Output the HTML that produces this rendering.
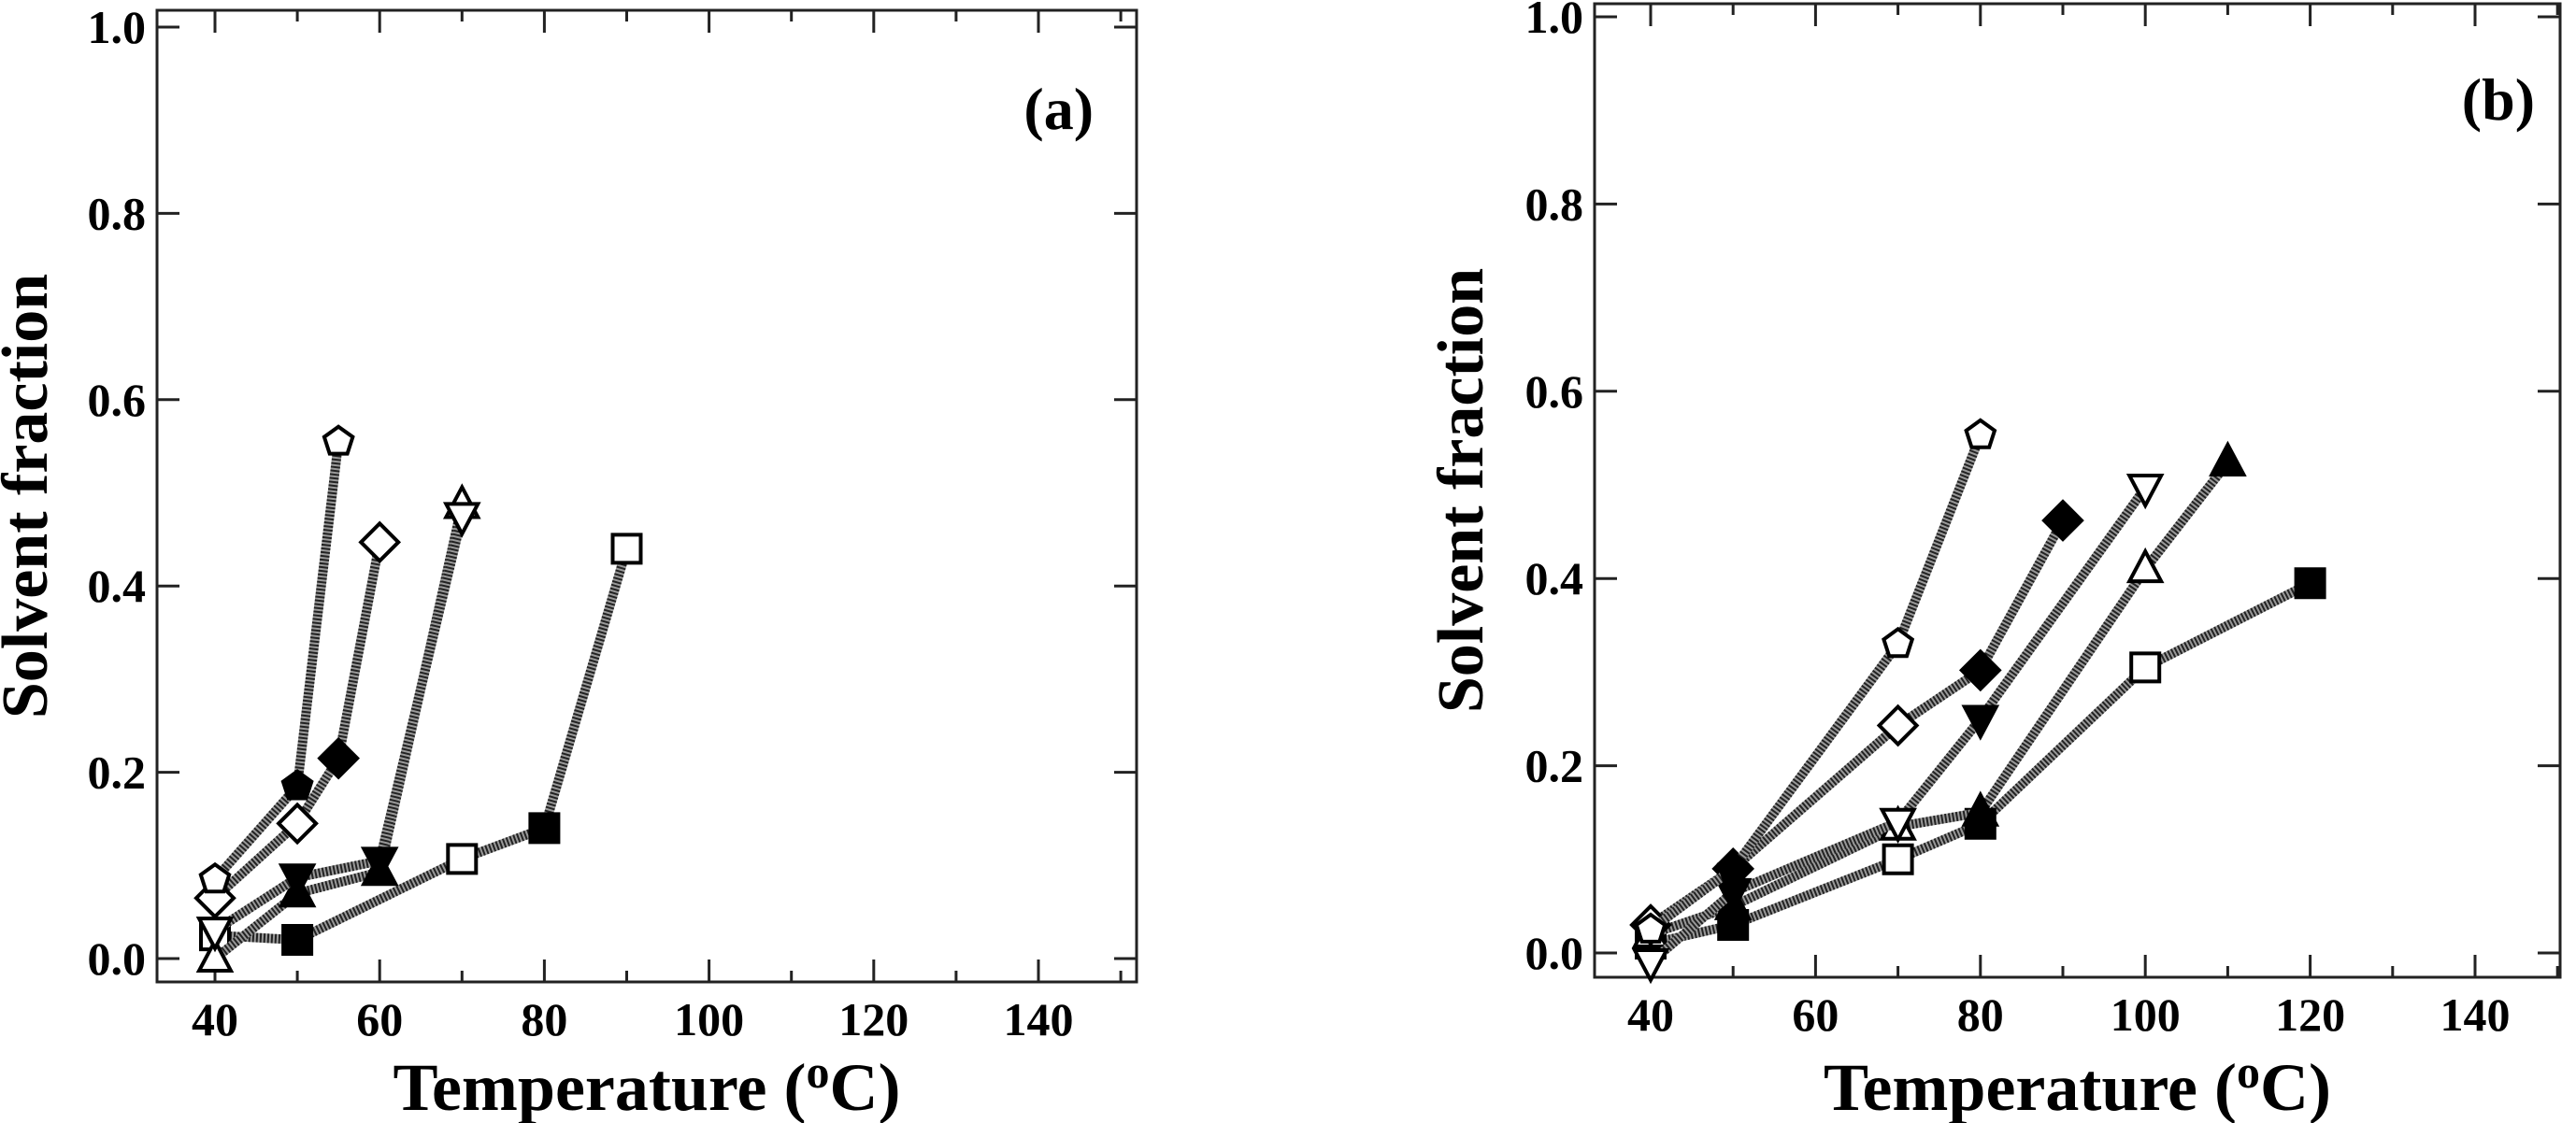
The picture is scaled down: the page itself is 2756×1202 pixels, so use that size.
<!DOCTYPE html>
<html><head><meta charset="utf-8">
<style>
html,body{margin:0;padding:0;background:#fff;}
svg{display:block;}
text{font-family:"Liberation Serif",serif;font-weight:bold;fill:#000;}
</style></head>
<body>
<svg id="fig" width="2756" height="1202" viewBox="0 0 2756 1202"></svg>
<script>
// ---- data: panel (a)
const aPentX=[40,50,55];           const aPentY=[0.085,0.185,0.555]; const aPentF=[0,1,0];
const aDiamX=[40,50,55,60];        const aDiamY=[0.065,0.145,0.215,0.447]; const aDiamF=[0,0,1,0];
const aTriX=[40,50,60,70];         const aTriY=[0.0,0.07,0.093,0.487]; const aTriF=[0,1,1,0];
const aItriX=[40,50,60,70];        const aItriY=[0.03,0.087,0.105,0.475]; const aItriF=[0,1,1,0];
const aSqX=[40,50,70,80,90];       const aSqY=[0.025,0.02,0.107,0.14,0.44]; const aSqF=[0,1,0,1,0];
// ---- data: panel (b)
const bPentX=[40,50,70,80];        const bPentY=[0.025,0.09,0.33,0.553]; const bPentF=[0,1,0,0];
const bDiamX=[40,50,70,80,90];     const bDiamY=[0.03,0.09,0.243,0.302,0.462]; const bDiamF=[0,1,0,1,1];
const bItriX=[40,50,70,80,100];    const bItriY=[-0.01,0.065,0.14,0.25,0.497]; const bItriF=[0,1,0,1,0];
const bTriX=[40,50,70,80,100,110]; const bTriY=[0.02,0.05,0.135,0.15,0.41,0.524]; const bTriF=[0,1,0,1,0,1];
const bSqX=[40,50,70,80,100,120];  const bSqY=[0.01,0.03,0.10,0.138,0.305,0.395]; const bSqF=[0,1,0,1,0,1];
// ---- ticks
const xTicks=[40,60,80,100,120,140];
const xMinor=[50,70,90,110,130,150];
const yTicks=[0.0,0.2,0.4,0.6,0.8,1.0];
const yTickLabels=["0.0","0.2","0.4","0.6","0.8","1.0"];

const NS="http://www.w3.org/2000/svg";
const svg=document.getElementById('fig');
function mk(tag,attrs,parent){const e=document.createElementNS(NS,tag);for(const k in attrs)e.setAttribute(k,attrs[k]);(parent||svg).appendChild(e);return e;}

function panel(P){
  const g=mk('g',{});
  
  
  const xs=v=>P.x40+(v-40)*P.xs;
  const ys=v=>P.y0-v*P.ys;
  const frame=mk('rect',{x:P.L,y:P.T,width:P.R-P.L,height:P.B-P.T,fill:'none',stroke:'#222','stroke-width':3},g);
  
  
  xTicks.forEach((t,i)=>{
    const x=xs(t);
    mk('line',{x1:x,x2:x,y1:P.B,y2:P.B-24,stroke:'#222','stroke-width':3},g);
    mk('line',{x1:x,x2:x,y1:P.T,y2:P.T+24,stroke:'#222','stroke-width':3},g);
    const tx=mk('text',{x:x,y:P.B+57,'font-size':50,'text-anchor':'middle'},g);
    tx.textContent=t;
    
    
  });
  xMinor.forEach(t=>{
    const x=xs(t); if(x>P.R)return;
    mk('line',{x1:x,x2:x,y1:P.B,y2:P.B-12,stroke:'#222','stroke-width':3},g);
    mk('line',{x1:x,x2:x,y1:P.T,y2:P.T+12,stroke:'#222','stroke-width':3},g);
  });
  yTicks.forEach((t,i)=>{
    const y=ys(t);
    mk('line',{x1:P.L,x2:P.L+24,y1:y,y2:y,stroke:'#222','stroke-width':3},g);
    mk('line',{x1:P.R,x2:P.R-24,y1:y,y2:y,stroke:'#222','stroke-width':3},g);
    const tx=mk('text',{x:P.L-12,y:y+17,'font-size':50,'text-anchor':'end'},g);
    tx.textContent=yTickLabels[i];
    
    
  });
  const xt=mk('text',{x:(P.L+P.R)/2,y:1188,'font-size':72,'text-anchor':'middle'},g);
  xt.innerHTML='Temperature (<tspan font-size="50" dy="-24">o</tspan><tspan dy="24">C)</tspan>';
  
  
  const yt=mk('text',{x:0,y:0,'font-size':70,'text-anchor':'middle',transform:`translate(${P.ytx},${P.yty}) rotate(-90)`},g);
  yt.textContent='Solvent fraction';
  
  
  const lb=mk('text',{x:P.lbx,y:P.lby,'font-size':64,'text-anchor':'end'},g);
  lb.textContent=P.label;
  
  

  P.series.forEach(s=>{
    const sg=mk('g',{},g);
    
    
    const pts=s.x.map((v,i)=>xs(v)+','+ys(s.y[i])).join(' ');
    mk('polyline',{points:pts,fill:'none',stroke:'#999','stroke-width':10},sg);
    mk('polyline',{points:pts,fill:'none',stroke:'#222','stroke-width':10,'stroke-dasharray':'2 2'},sg);
    s.x.forEach((v,i)=>{
      const m=marker(s.kind,xs(v),ys(s.y[i]),s.f[i],sg);
      
      
    });
  });
}
function marker(kind,x,y,filled,parent){
  const fill=filled?'#000':'#fff';
  const at={fill:fill,stroke:'#000','stroke-width':4};
  let d;
  if(kind==='sq'){d=`M${x-15},${y-15}h30v30h-30z`;}
  else if(kind==='diam'){d=`M${x},${y-20}L${x+20},${y}L${x},${y+20}L${x-20},${y}z`;}
  else if(kind==='tri'){d=`M${x},${y-19}L${x+17},${y+13}L${x-17},${y+13}z`;}
  else if(kind==='itri'){d=`M${x},${y+19}L${x+17},${y-13}L${x-17},${y-13}z`;}
  else {let p=[];for(let k=0;k<5;k++){const a=-Math.PI/2+k*2*Math.PI/5;p.push((x+16*Math.cos(a)).toFixed(1)+','+(y+16*Math.sin(a)).toFixed(1));}d='M'+p.join('L')+'z';}
  at.d=d;
  return mk('path',at,parent);
}
panel({name:'panel-a',L:168,R:1216,T:11,B:1051,x40:230,xs:8.81,y0:1026,ys:997,
  ytx:50,yty:531,lbx:1170,lby:138,label:'(a)',
  series:[
    {kind:'sq',x:aSqX,y:aSqY,f:aSqF},
    {kind:'tri',x:aTriX,y:aTriY,f:aTriF},
    {kind:'itri',x:aItriX,y:aItriY,f:aItriF},
    {kind:'diam',x:aDiamX,y:aDiamY,f:aDiamF},
    {kind:'pent',x:aPentX,y:aPentY,f:aPentF}]});
panel({name:'panel-b',L:1706,R:2739,T:4,B:1046,x40:1766,xs:8.82,y0:1020,ys:1002,
  ytx:1586,yty:525,lbx:2712,lby:128,label:'(b)',
  series:[
    {kind:'sq',x:bSqX,y:bSqY,f:bSqF},
    {kind:'tri',x:bTriX,y:bTriY,f:bTriF},
    {kind:'itri',x:bItriX,y:bItriY,f:bItriF},
    {kind:'diam',x:bDiamX,y:bDiamY,f:bDiamF},
    {kind:'pent',x:bPentX,y:bPentY,f:bPentF}]});
</script>
</body></html>
